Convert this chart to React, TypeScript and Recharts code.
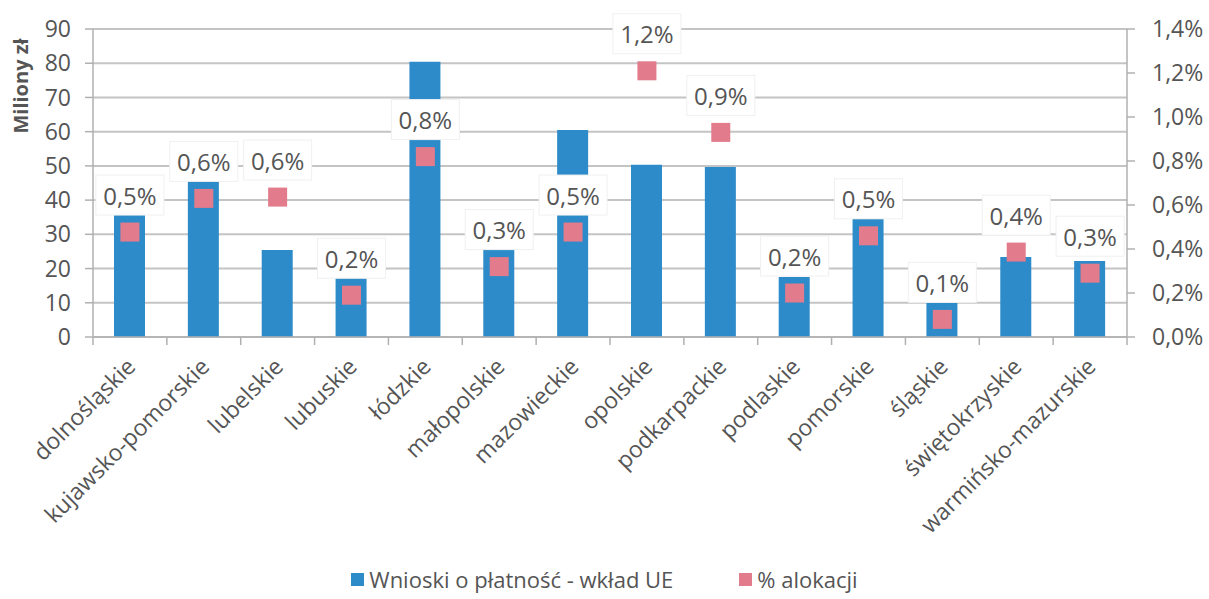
import React from 'react';
import { ComposedChart, Bar, Line, XAxis, YAxis, CartesianGrid, Legend, LabelList } from 'recharts';

const categories = [
  'dolnośląskie', 'kujawsko-pomorskie', 'lubelskie', 'lubuskie', 'łódzkie', 'małopolskie',
  'mazowieckie', 'opolskie', 'podkarpackie', 'podlaskie', 'pomorskie', 'śląskie',
  'świętokrzyskie', 'warmińsko-mazurskie',
];
const wnioski = [36.2, 45.9, 25.4, 17.2, 80.4, 26.0, 60.5, 50.3, 49.7, 17.5, 34.5, 9.9, 23.4, 22.2];
const alokacja = [0.477, 0.63, 0.636, 0.19, 0.82, 0.32, 0.477, 1.21, 0.93, 0.2, 0.46, 0.08, 0.386, 0.29];
const leftTicks = [0, 10, 20, 30, 40, 50, 60, 70, 80, 90];
const rightTicks = [0, 0.2, 0.4, 0.6, 0.8, 1.0, 1.2, 1.4];
const seriesNames = ['Wnioski o płatność - wkład UE', '% alokacji'];
const yLabel = 'Miliony zł';

const data = categories.map((name, i) => ({ name, wnioski: wnioski[i], alokacja: alokacja[i] }));

const W = 1209;
const H = 599;
const LEFT_W = 93;
const RIGHT_W = 82;
const TOP = 29;
const LEGEND_H = 40;
const XAXIS_H = 222;
const BAND = (W - LEFT_W - RIGHT_W) / categories.length;

const FONT = "'Open Sans', sans-serif";
const TEXT = '#555555';
const GRID = '#c4c4c4';
const AXIS = '#b0b0b0';
const BLUE = '#2E8BC9';
const PINK = '#E27B8C';

const fmtPct = (v: number) => v.toFixed(1).replace('.', ',') + '%';

const XTick = (props: any) => {
  const { x, y, payload, index } = props;
  const last = index === categories.length - 1;
  const tx = x + 7;
  const ty = y + 31;
  return (
    <g>
      <line x1={x - BAND / 2} x2={x - BAND / 2} y1={y} y2={y + 8} stroke={AXIS} strokeWidth={1.5} />
      {last && <line x1={x + BAND / 2} x2={x + BAND / 2} y1={y} y2={y + 8} stroke={AXIS} strokeWidth={1.5} />}
      <text
        x={tx}
        y={ty}
        textAnchor="end"
        fill={TEXT}
        fontSize={23}
        fontFamily={FONT}
        transform={`rotate(-45, ${tx}, ${ty})`}
      >
        {payload.value}
      </text>
    </g>
  );
};

const SquareDot = (props: any) => {
  const { cx, cy } = props;
  if (cx == null || cy == null) return null;
  return <rect x={cx - 9.5} y={cy - 9.5} width={19} height={19} fill={PINK} />;
};

const PctLabel = (props: any) => {
  const { x, y, value } = props;
  if (x == null || y == null) return null;
  const cy = y - 37;
  return (
    <g>
      <rect x={x - 34} y={cy - 20} width={68} height={40} fill="#ffffff" stroke="#f0f0f0" strokeWidth={1} />
      <text x={x} y={cy} textAnchor="middle" dominantBaseline="central" fill={TEXT} fontSize={24} fontFamily={FONT}>
        {fmtPct(value)}
      </text>
    </g>
  );
};

const YTitle = (props: any) => {
  const { viewBox } = props;
  const x = viewBox.x + 20;
  const y = viewBox.y + 57;
  return (
    <text
      x={x}
      y={y}
      textAnchor="middle"
      dominantBaseline="central"
      fill={TEXT}
      fontSize={20}
      fontWeight="bold"
      fontFamily={FONT}
      transform={`rotate(-90, ${x}, ${y})`}
    >
      {yLabel}
    </text>
  );
};

const LegendContent = () => (
  <div
    style={{
      display: 'flex',
      justifyContent: 'center',
      alignItems: 'center',
      height: LEGEND_H,
      fontFamily: FONT,
      fontSize: 22,
      color: TEXT,
    }}
  >
    <span style={{ display: 'flex', alignItems: 'center', marginRight: 66 }}>
      <span style={{ width: 13, height: 13, background: BLUE, display: 'inline-block', marginRight: 5 }} />
      {seriesNames[0]}
    </span>
    <span style={{ display: 'flex', alignItems: 'center' }}>
      <span style={{ width: 13, height: 13, background: PINK, display: 'inline-block', marginRight: 5 }} />
      {seriesNames[1]}
    </span>
  </div>
);

export default function App() {
  return (
    <div style={{ position: 'absolute', left: 0, top: 0, width: W, height: H, background: '#fff' }}>
      <ComposedChart width={W} height={H} data={data} margin={{ top: TOP, right: 0, left: 0, bottom: 0 }}>
        <CartesianGrid horizontal vertical={false} stroke={GRID} strokeWidth={2} yAxisId="left" />
        <XAxis
          dataKey="name"
          interval={0}
          height={XAXIS_H}
          tick={<XTick />}
          tickLine={false}
          tickSize={0}
          tickMargin={0}
          axisLine={{ stroke: AXIS, strokeWidth: 1.5 }}
        />
        <YAxis
          yAxisId="left"
          orientation="left"
          width={LEFT_W}
          domain={[0, 90]}
          ticks={leftTicks}
          interval={0}
          tick={{ fill: TEXT, fontSize: 23, fontFamily: FONT }}
          tickSize={8}
          tickMargin={14}
          tickLine={{ stroke: AXIS, strokeWidth: 1.5 }}
          axisLine={{ stroke: AXIS, strokeWidth: 1.5 }}
          label={<YTitle />}
        />
        <YAxis
          yAxisId="right"
          orientation="right"
          width={RIGHT_W}
          domain={[0, 1.4]}
          ticks={rightTicks}
          interval={0}
          tickFormatter={(v: number) => fmtPct(v)}
          tick={{ fill: TEXT, fontSize: 23, fontFamily: FONT }}
          tickSize={8}
          tickMargin={17}
          tickLine={{ stroke: AXIS, strokeWidth: 1.5 }}
          axisLine={{ stroke: AXIS, strokeWidth: 1.5 }}
        />
        <Bar yAxisId="left" dataKey="wnioski" name={seriesNames[0]} fill={BLUE} barSize={31} isAnimationActive={false} />
        <Line
          yAxisId="right"
          dataKey="alokacja"
          name={seriesNames[1]}
          stroke="none"
          strokeWidth={0}
          dot={<SquareDot />}
          activeDot={false}
          isAnimationActive={false}
        >
          <LabelList dataKey="alokacja" content={<PctLabel />} />
        </Line>
        <Legend verticalAlign="bottom" height={LEGEND_H} content={<LegendContent />} />
      </ComposedChart>
    </div>
  );
}
